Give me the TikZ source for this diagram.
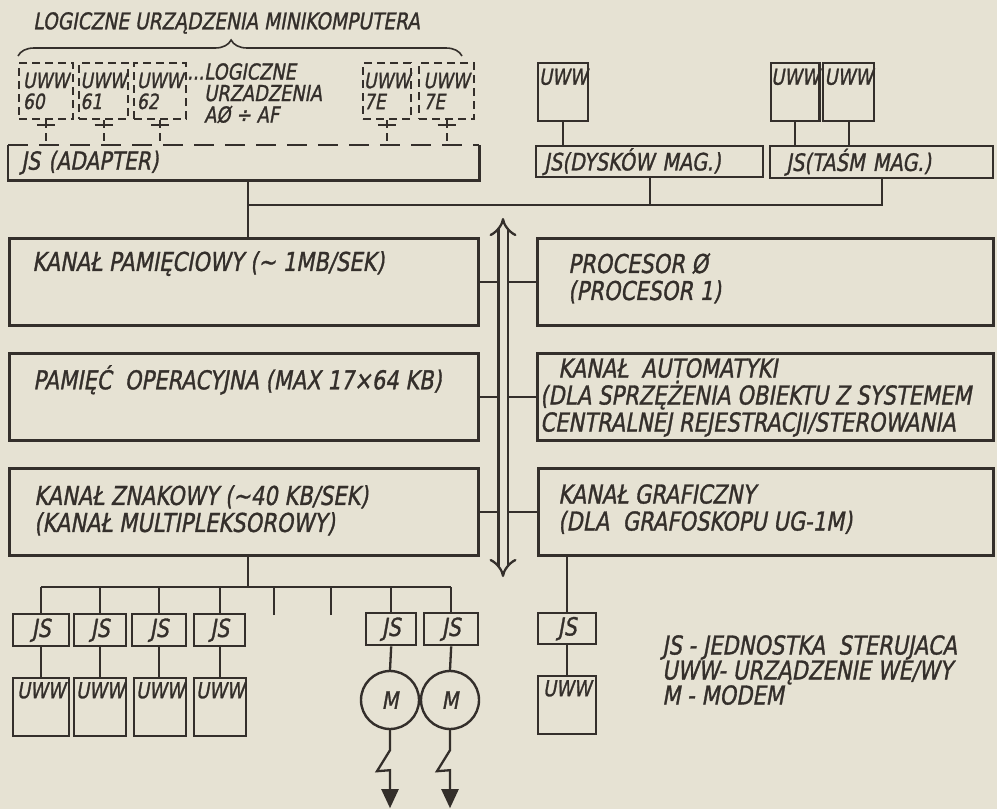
\documentclass[tikz,border=0pt]{standalone}
\usepackage{fontspec}
\setmainfont{DejaVu Sans}[FakeStretch=0.81,FakeSlant=0.18,FakeBold=1.2]
\usetikzlibrary{arrows.meta,positioning,decorations.pathreplacing}
\definecolor{paper}{RGB}{230,226,211}
\definecolor{ink}{RGB}{52,47,43}

\begin{document}
\begin{tikzpicture}[
    x=1pt, y=-1pt,
    every node/.style={text=ink},
    chan/.style={draw=ink, line width=2.6pt, anchor=north west, inner sep=0pt, minimum height=87pt},
    unit/.style={draw=ink, line width=2.4pt, anchor=north west, inner sep=0pt},
    uww/.style={unit, minimum width=#1, minimum height=58pt, text height=16pt, text depth=34pt, inner ysep=4pt, font=\fontsize{22}{22}\selectfont},
    js/.style={unit, minimum width=#1, minimum height=32pt, font=\fontsize{25}{25}\selectfont},
    ghost/.style={draw=ink, line width=2pt, dash pattern=on 8pt off 5pt, anchor=north west, inner sep=0pt, minimum height=56pt, minimum width=#1, align=left, font=\fontsize{21}{21}\selectfont},
    modem/.style={circle, draw=ink, line width=2.4pt, minimum size=58pt, inner sep=0pt, font=\fontsize{24}{24}\selectfont},
    txt/.style={inner sep=0pt, align=left, anchor=north west, font=\fontsize{26}{27}\selectfont},
    wire/.style={draw=ink, line width=2.3pt},
    dwire/.style={wire, line width=2pt, dash pattern=on 8pt off 5pt},
    bus/.style={draw=ink, line width=2.3pt, double=paper, double distance=7pt, {Implies[length=12pt,width=26pt]}-{Implies[length=12pt,width=26pt]}},
    bolt/.style={wire, -{Triangle[width=17pt, length=19pt]}},
    brc/.style={draw=ink, line width=1.6pt, decorate, decoration={brace, amplitude=16pt, aspect=0.48}}
]
\useasboundingbox (0,0) rectangle (997,809);
\fill[paper] (0,0) rectangle (997,809);

% logical devices of the minicomputer
\node[txt, font=\fontsize{23}{23}\selectfont] (title) at (33,12) {LOGICZNE URZĄDZENIA MINIKOMPUTERA};
\draw[brc] (18,56) -- (462,56);

\node[ghost=54pt] (u60) at (18,62) {UWW\\60};
\node[ghost=49pt] (u61) at (78,62) {UWW\\61};
\node[ghost=52pt] (u62) at (133,62) {UWW\\62};
\node[txt, font=\fontsize{22}{21.5}\selectfont] (logic) at (187,63) {...LOGICZNE\\\phantom{...}URZADZENIA\\\phantom{...}AØ ÷ AF};
\node[ghost=48pt] (u7a) at (362,62) {UWW\\7E};
\node[ghost=55pt] (u7b) at (418,62) {UWW\\7E};

\node[unit, draw=none, minimum height=33pt, text width=445pt, inner xsep=12pt, align=left, font=\fontsize{25}{25}\selectfont] (ad) at (8,145) {JS (ADAPTER)};
\draw[wire, line width=2.6pt] (ad.north west) -- (ad.south west) -- (ad.south east) -- (ad.north east);
\draw[dwire, dash pattern=on 20pt off 11pt] (ad.north west) -- (ad.north east);

\foreach \g in {u60,u61,u62,u7a,u7b}{
    \draw[dwire] (\g.south) -- (\g.south |- ad.north);
    \draw[wire, line width=2pt] ([shift={(-9pt,-5pt)}]\g.south) -- ++(18,0);
}

% disk and tape units
\node[uww=50pt, text depth=31pt] (ua) at (537,62) {UWW};
\node[uww=46pt, text depth=31pt] (ub) at (770,62) {UWW};
\node[uww=51pt, text depth=31pt] (uc) at (822,62) {UWW};
\node[js=227pt, text width=211pt, inner xsep=8pt, align=left, minimum height=31pt, font=\fontsize{24}{24}\selectfont] (dy) at (535,145) {JS(DYSKÓW MAG.)};
\node[js=223pt, text width=191pt, inner xsep=16pt, align=left, font=\fontsize{24}{24}\selectfont] (ts) at (769,145) {JS(TAŚM MAG.)};

\draw[wire] (ua.south) -- (ua.south |- dy.north);
\draw[wire] (ub.south) -- (ub.south |- ts.north);
\draw[wire] (uc.south) -- (uc.south |- ts.north);

% channels
\node[chan, minimum width=469pt] (kp) at (8,237) {};
\node[chan, minimum width=469pt] (po) at (8,352) {};
\node[chan, minimum width=469pt] (kz) at (8,467) {};
\node[chan, minimum width=456pt] (pr) at (536,237) {};
\node[chan, minimum width=456pt] (ka) at (536,352) {};
\node[chan, minimum width=455pt] (kg) at (537,467) {};

\node[txt, below right=14pt and 24pt of kp.north west] (kpT) {KANAŁ PAMIĘCIOWY (\textasciitilde{} 1MB/SEK)};
\node[txt, below right=13pt and 25pt of po.north west] (poT) {PAMIĘĆ\ \ OPERACYJNA (MAX 17×64 KB)};
\node[txt, below right=18pt and 26pt of kz.north west] (kzT) {KANAŁ ZNAKOWY (\textasciitilde40 KB/SEK)\\(KANAŁ MULTIPLEKSOROWY)};
\node[txt, below right=16pt and 32pt of pr.north west] (prT) {PROCESOR Ø\\(PROCESOR 1)};
\node[txt, below right=6pt and 4pt of ka.north west] (kaT) {\hspace*{18pt}KANAŁ\ \ AUTOMATYKI\\(DLA SPRZĘŻENIA OBIEKTU Z SYSTEMEM\\CENTRALNEJ REJESTRACJI/STEROWANIA};
\node[txt, below right=17pt and 21pt of kg.north west] (kgT) {KANAŁ GRAFICZNY\\(DLA\ \ GRAFOSKOPU UG-1M)};

% upper bus
\coordinate (hub) at (248,205);
\draw[wire] (ad.south -| hub) -- (kp.north -| hub);
\draw[wire] (hub) -| (ts.south);
\draw[wire] (dy.south) -- (dy.south |- hub);

% system bus
\coordinate (bustop) at (503,218);
\coordinate (busbot) at (503,577);
\coordinate (busL) at (497,0);
\coordinate (busR) at (509,0);
\draw[bus] (busbot) -- (bustop);
\foreach \c in {kp,po,kz}
    \draw[wire] (\c.east) -- (\c.east -| busL);
\foreach \c in {pr,ka,kg}
    \draw[wire] (\c.west) -- (\c.west -| busR);

% character channel devices
\node[js=56pt] (j1) at (12,613) {JS};
\node[js=52pt] (j2) at (73,613) {JS};
\node[js=54pt] (j3) at (131,613) {JS};
\node[js=51pt] (j4) at (193,613) {JS};
\node[js=50pt] (jm1) at (365,612) {JS};
\node[js=54pt] (jm2) at (423,612) {JS};
\node[uww=56pt] (w1) at (12,677) {UWW};
\node[uww=52pt] (w2) at (73,677) {UWW};
\node[uww=52pt] (w3) at (133,677) {UWW};
\node[uww=52pt] (w4) at (193,677) {UWW};
\node[modem] (m1) at (390,700) {M};
\node[modem] (m2) at (450,700) {M};

\coordinate (hub2) at (248,587);
\coordinate (sp1) at (274,615);
\coordinate (sp2) at (331,615);
\draw[wire] (kz.south -| hub2) -- (hub2);
\draw[wire] (j1.north |- hub2) -- (jm2.north |- hub2);
\foreach \j in {j1,j2,j3,j4,jm1,jm2,sp1,sp2}
    \draw[wire] (\j.north) -- (\j.north |- hub2);
\foreach \j/\w in {j1/w1,j2/w2,j3/w3,j4/w4}
    \draw[wire] (\j.south) -- (\j.south |- \w.north);
\draw[wire] (jm1.south) -- (m1.north);
\draw[wire] (jm2.south) -- (m2.north);
\draw[bolt] (m1.south) -- ++(0,20) -- ++(-13,21) -- ++(13,-1) -- ++(0,38);
\draw[bolt] (m2.south) -- ++(0,20) -- ++(-13,21) -- ++(13,-1) -- ++(0,38);

% graphic channel device
\node[js=58pt, minimum height=31pt] (jg) at (537,612) {JS};
\node[uww=58pt] (wg) at (537,675) {UWW};
\draw[wire] (kg.south -| jg.north) -- (jg.north);
\draw[wire] (jg.south) -- (wg.north);

\node[txt, font=\fontsize{26}{25}\selectfont] (legend) at (662,635) {JS - JEDNOSTKA\ \ STERUJACA\\UWW- URZĄDZENIE WE/WY\\M - MODEM};
\end{tikzpicture}
\end{document}
